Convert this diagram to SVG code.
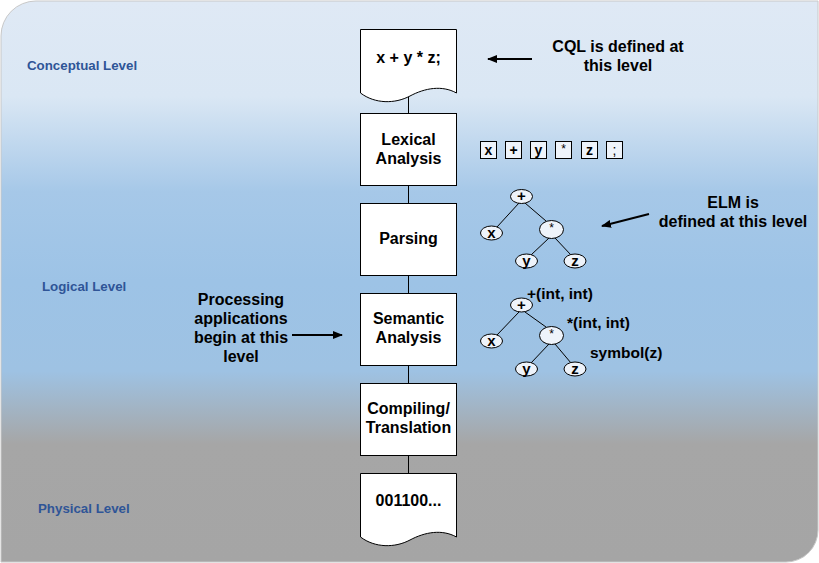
<svg xmlns="http://www.w3.org/2000/svg" width="819" height="563" viewBox="0 0 819 563">
<defs>
<linearGradient id="bg" x1="0" y1="0" x2="0" y2="1">
<stop offset="0" stop-color="#dfe9f5"/>
<stop offset="0.17" stop-color="#dae7f4"/>
<stop offset="0.34" stop-color="#a6c8e8"/>
<stop offset="0.5" stop-color="#9dc3e6"/>
<stop offset="0.66" stop-color="#9ec2e3"/>
<stop offset="0.79" stop-color="#a6a6a6"/>
<stop offset="1" stop-color="#a5a5a5"/>
</linearGradient>
<marker id="ah" viewBox="0 0 10 10" refX="9" refY="5" markerWidth="5" markerHeight="5" orient="auto-start-reverse" markerUnits="strokeWidth">
<path d="M0,1 L10,5 L0,9 Z" fill="#000"/>
</marker>
<style>
.box{fill:#fff;stroke:#000;stroke-width:1}
.t{font-family:"Liberation Sans",Arial,sans-serif;font-weight:bold;font-size:16px;fill:#000;text-anchor:middle}
.t16{font-family:"Liberation Sans",Arial,sans-serif;font-weight:bold;font-size:16px;fill:#000;text-anchor:middle}
.lv{font-family:"Liberation Sans",Arial,sans-serif;font-weight:bold;font-size:13.3px;fill:#2f5597}
.tok{fill:#eef3fa;stroke:#000;stroke-width:1}
.tk{font-family:"Liberation Sans",Arial,sans-serif;font-weight:bold;font-size:14px;fill:#000;text-anchor:middle}
.el{fill:#eef3fa;stroke:#000;stroke-width:1}
.et{font-family:"Liberation Sans",Arial,sans-serif;font-weight:bold;font-size:15px;fill:#000;text-anchor:middle}
.ln{stroke:#000;stroke-width:1;fill:none}
.ar{stroke:#000;stroke-width:2;fill:none}
.lb{font-family:"Liberation Sans",Arial,sans-serif;font-weight:bold;font-size:15.5px;fill:#000}
</style>
</defs>
<rect x="0" y="0" width="819" height="563" fill="#fff"/>
<path d="M36,1 H818 V530 A32,32 0 0 1 786,562 H1 V36 A35,35 0 0 1 36,1 Z" fill="url(#bg)" stroke="#c8c8c8" stroke-width="1"/>

<g id="levels">
<text class="lv" x="27" y="70">Conceptual Level</text>
<text class="lv" x="42" y="291">Logical Level</text>
<text class="lv" x="38" y="513">Physical Level</text>
</g>

<g id="connectors">
<line class="ln" x1="408.5" y1="97" x2="408.5" y2="113"/>
<line class="ln" x1="408.5" y1="186" x2="408.5" y2="203"/>
<line class="ln" x1="408.5" y1="275" x2="408.5" y2="293"/>
<line class="ln" x1="408.5" y1="365" x2="408.5" y2="383"/>
<line class="ln" x1="408.5" y1="455" x2="408.5" y2="473"/>
<line class="ar" x1="532" y1="59" x2="488" y2="59" marker-end="url(#ah)"/>
<line class="ar" x1="649" y1="214" x2="602" y2="226" marker-end="url(#ah)"/>
<line class="ar" x1="292" y1="335" x2="342" y2="335" marker-end="url(#ah)"/>
</g>

<g id="doc-source">
<path class="box" d="M360.5,29.5 H456.5 V93 C442,85 425,88 410,96 C395,104 375,104 360.5,93 Z"/>
<text class="t" x="408.5" y="63">x + y * z;</text>
</g>
<g id="lexical">
<rect class="box" x="360.5" y="113.5" width="96" height="72"/>
<text class="t" x="408.5" y="145">Lexical</text>
<text class="t" x="408.5" y="164">Analysis</text>
</g>
<g id="parsing">
<rect class="box" x="360.5" y="203.5" width="96" height="72"/>
<text class="t" x="408.5" y="244">Parsing</text>
</g>
<g id="semantic">
<rect class="box" x="360.5" y="293.5" width="96" height="72"/>
<text class="t" x="408.5" y="324">Semantic</text>
<text class="t" x="408.5" y="343">Analysis</text>
</g>
<g id="compiling">
<rect class="box" x="360.5" y="383.5" width="96" height="72"/>
<text class="t" x="408.5" y="414">Compiling/</text>
<text class="t" x="408.5" y="433">Translation</text>
</g>
<g id="doc-output">
<path class="box" d="M360.5,473.5 H456.5 V537 C442,529 425,532 410,540 C395,548 375,548 360.5,537 Z"/>
<text class="t" x="408.5" y="506">001100...</text>
</g>

<g id="cql-label">
<text class="t16" x="618" y="52">CQL is defined at</text>
<text class="t16" x="618" y="71">this level</text>
</g>

<g id="tokens">
<rect class="tok" x="480.5" y="141.5" width="16" height="17"/><text class="tk" x="488.5" y="155">x</text>
<rect class="tok" x="505.5" y="141.5" width="16" height="17"/><text class="tk" x="513.5" y="155">+</text>
<rect class="tok" x="530.5" y="141.5" width="16" height="17"/><text class="tk" x="538.5" y="155">y</text>
<rect class="tok" x="555.5" y="141.5" width="16" height="17"/><text class="tk" x="563.5" y="153" style="font-weight:normal;font-size:12px">*</text>
<rect class="tok" x="581.5" y="141.5" width="16" height="17"/><text class="tk" x="589.5" y="155">z</text>
<rect class="tok" x="606.5" y="141.5" width="16" height="17"/><text class="tk" x="614.5" y="155" style="font-weight:normal">;</text>
</g>

<g id="tree-parse">
<line class="ln" x1="519" y1="203" x2="497" y2="227"/>
<line class="ln" x1="525" y1="203" x2="546" y2="221"/>
<line class="ln" x1="549" y1="238" x2="531" y2="255"/>
<line class="ln" x1="555" y1="238" x2="571" y2="255"/>
<ellipse class="el" cx="521.5" cy="196.5" rx="11" ry="7"/><text class="et" x="521.5" y="201">+</text>
<ellipse class="el" cx="491.5" cy="233" rx="11" ry="7"/><text class="et" x="491.5" y="238">x</text>
<ellipse class="el" cx="551.5" cy="229.5" rx="12" ry="9"/><text class="et" x="551.5" y="232" style="font-weight:normal;font-size:12px">*</text>
<ellipse class="el" cx="526.5" cy="261" rx="11" ry="7"/><text class="et" x="526.5" y="266">y</text>
<ellipse class="el" cx="575" cy="261" rx="11" ry="7"/><text class="et" x="575" y="266">z</text>
</g>

<g id="elm-label">
<text class="t16" x="733" y="208">ELM is</text>
<text class="t16" x="733" y="227">defined at this level</text>
</g>

<g id="tree-semantic">
<line class="ln" x1="519" y1="312" x2="497" y2="335"/>
<line class="ln" x1="525" y1="312" x2="546" y2="327"/>
<line class="ln" x1="549" y1="344" x2="531" y2="363"/>
<line class="ln" x1="555" y1="344" x2="571" y2="363"/>
<ellipse class="el" cx="521.5" cy="305" rx="11" ry="7"/><text class="et" x="521.5" y="310">+</text>
<ellipse class="el" cx="491.5" cy="341" rx="11" ry="7"/><text class="et" x="491.5" y="346">x</text>
<ellipse class="el" cx="551.5" cy="335.5" rx="12" ry="9"/><text class="et" x="551.5" y="338" style="font-weight:normal;font-size:12px">*</text>
<ellipse class="el" cx="526.5" cy="369" rx="11" ry="7"/><text class="et" x="526.5" y="374">y</text>
<ellipse class="el" cx="575" cy="369" rx="11" ry="7"/><text class="et" x="575" y="374">z</text>
<text class="lb" x="527" y="299">+(int, int)</text>
<text class="lb" x="567" y="328">*(int, int)</text>
<text class="lb" x="590" y="358">symbol(z)</text>
</g>

<g id="processing-label">
<text class="t16" x="241" y="305">Processing</text>
<text class="t16" x="241" y="324">applications</text>
<text class="t16" x="241" y="343">begin at this</text>
<text class="t16" x="241" y="362">level</text>
</g>
</svg>
